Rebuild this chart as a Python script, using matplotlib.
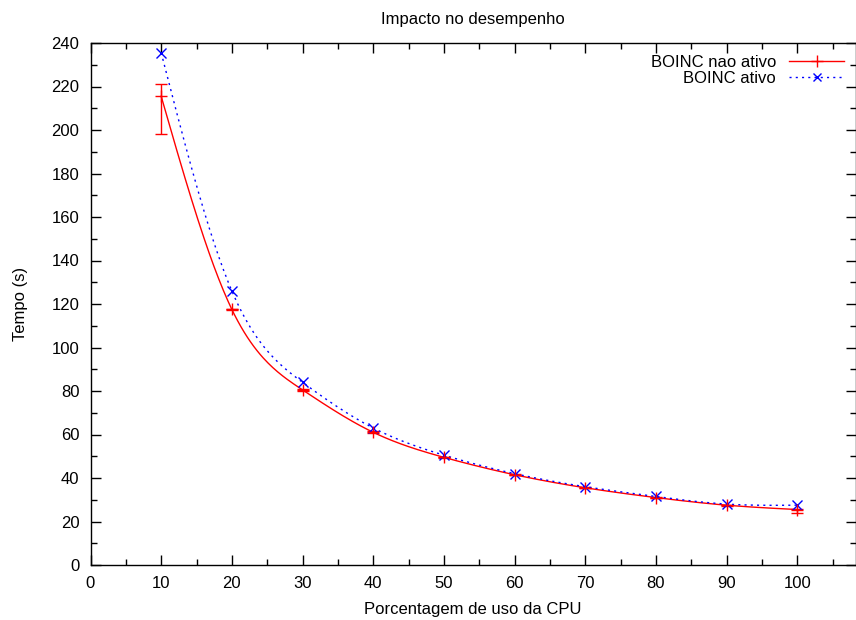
import numpy as np
import matplotlib.pyplot as plt

plt.rcParams['font.family'] = ['Liberation Sans', 'DejaVu Sans']

# CPU usage (%) and measured time (s)
cpu = [10, 20, 30, 40, 50, 60, 70, 80, 90, 100]
tempo_nao_ativo = [215.5, 117.5, 80.5, 61.0, 49.5, 41.5, 35.5, 31.0, 27.5, 25.5]
erro_baixo = [17.5, 0.4, 0.4, 0.4, 0.3, 0.3, 0.3, 0.3, 0.3, 1.5]
erro_cima = [5.5, 0.4, 0.4, 0.4, 0.3, 0.3, 0.3, 0.3, 0.3, 0.3]
tempo_ativo = [235.5, 126.0, 84.0, 63.0, 50.5, 42.0, 36.0, 31.5, 28.0, 27.5]


def csplines(x, y, n=400):
    # natural cubic spline, like gnuplot "smooth csplines"
    x = np.asarray(x, float)
    y = np.asarray(y, float)
    k = len(x)
    h = np.diff(x)
    A = np.zeros((k, k))
    r = np.zeros(k)
    A[0, 0] = A[-1, -1] = 1
    for i in range(1, k - 1):
        A[i, i - 1] = h[i - 1]
        A[i, i] = 2 * (h[i - 1] + h[i])
        A[i, i + 1] = h[i]
        r[i] = 6 * ((y[i + 1] - y[i]) / h[i] - (y[i] - y[i - 1]) / h[i - 1])
    m = np.linalg.solve(A, r)
    xs = np.linspace(x[0], x[-1], n)
    idx = np.clip(np.searchsorted(x, xs) - 1, 0, k - 2)
    x0, x1 = x[idx], x[idx + 1]
    hh = x1 - x0
    a = (x1 - xs) / hh
    b = (xs - x0) / hh
    ys = a * y[idx] + b * y[idx + 1] + ((a**3 - a) * m[idx] + (b**3 - b) * m[idx + 1]) * hh**2 / 6
    return xs, ys


fig = plt.figure(figsize=(8.56, 6.2), dpi=100)
ax = fig.add_axes([90.5 / 856, 1 - 565 / 620, 1 - 90.5 / 856, (565 - 43) / 620])

xs, ys = csplines(cpu, tempo_nao_ativo)
ax.plot(xs, ys, color='#ff0000', lw=1.0)
ax.errorbar(cpu, tempo_nao_ativo, yerr=[erro_baixo, erro_cima], fmt='+', color='#ff0000',
            ms=8, mew=1.0, elinewidth=1.0, capsize=4, capthick=1.0)

xs, ys = csplines(cpu, tempo_ativo)
ax.plot(xs, ys, color='#0000ff', lw=1.0, ls=(0, (1.5, 3)))
ax.plot(cpu, tempo_ativo, 'x', color='#0000ff', ms=7, mew=1.0)

# legend entries (gnuplot-style, text right-aligned, sample on the right)
h1, = ax.plot([], [], color='#ff0000', marker='+', ms=8, lw=1.0)
h2, = ax.plot([], [], color='#0000ff', ls=(0, (1.5, 3)), marker='x', lw=1.0)
ax.legend([h1, h2], ['BOINC nao ativo', 'BOINC ativo'], loc='upper right',
          bbox_to_anchor=(1.0, 1.0), frameon=False, markerfirst=False,
          fontsize=12, handlelength=3.3, labelspacing=0.1, borderaxespad=0.3, handletextpad=0.8)

ax.set_xlim(0, 108.3)
ax.set_ylim(0, 240)
ax.set_xticks(np.arange(0, 101, 10))
ax.set_xticks(np.arange(5, 106, 10), minor=True)
ax.set_yticks(np.arange(0, 241, 20))
ax.set_yticks(np.arange(10, 240, 20), minor=True)
ax.tick_params(which='both', direction='in', top=True, right=True, labelsize=12, width=1.0)
ax.tick_params(which='major', length=7, pad=8)
ax.tick_params(which='minor', length=4)
for s in ax.spines.values():
    s.set_linewidth(1.0)

ax.set_xlabel('Porcentagem de uso da CPU', fontsize=12, labelpad=8)
ax.set_ylabel('Tempo (s)', fontsize=12, labelpad=17)
ax.set_title('Impacto no desempenho', fontsize=12, pad=14)

fig.savefig('out.png', dpi=100)
